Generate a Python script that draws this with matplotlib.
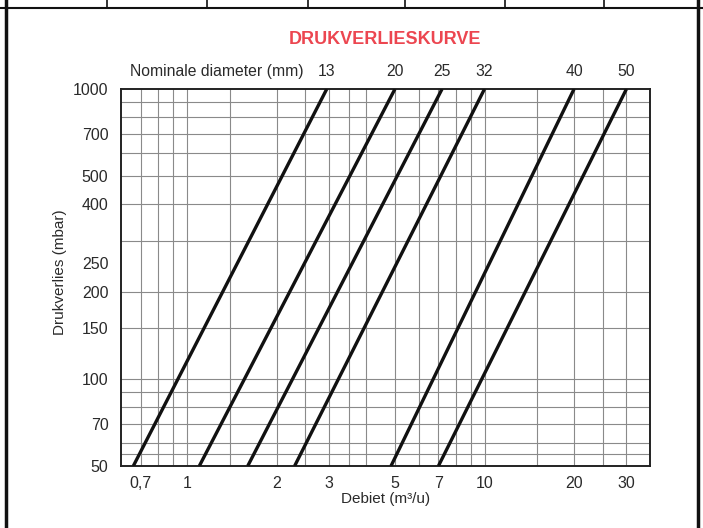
import numpy as np
import matplotlib
matplotlib.use('Agg')
import matplotlib.pyplot as plt
from matplotlib.lines import Line2D

# nominale diameter (mm) en debiet bij 50 en 1000 mbar
diameters = [13, 20, 25, 32, 40, 50]
q_50 = [0.66, 1.1, 1.6, 2.3, 4.85, 7.0]
q_1000 = [2.95, 5.0, 7.2, 10.0, 20, 30]
dp_ends = [50, 1000]

xticks = [0.7, 1, 2, 3, 5, 7, 10, 20, 30]
xticklabels = ['0,7', '1', '2', '3', '5', '7', '10', '20', '30']
yticks = [50, 70, 100, 150, 200, 250, 400, 500, 700, 1000]
xgrid = [0.7, 0.8, 0.9, 1, 1.4, 2, 2.5, 3, 3.5, 4, 5, 6, 7, 8, 9, 10, 15, 20, 25, 30]
ygrid = [55, 60, 70, 80, 90, 100, 150, 200, 300, 400, 500, 600, 700, 800, 900]

plt.rcParams['font.family'] = ['Liberation Sans', 'DejaVu Sans']
txt = '#2a2a2a'

fig = plt.figure(figsize=(7.03, 5.28), dpi=100)
ax = fig.add_axes([121/703, 1-466/528, (650-121)/703, (466-89)/528])
ax.set_xscale('log')
ax.set_yscale('log')
ax.set_xlim(0.6, 36)
ax.set_ylim(50, 1000)

for g in xgrid:
    ax.axvline(g, color='#8a8a8a', lw=0.8, zorder=1)
for g in ygrid:
    ax.axhline(g, color='#8a8a8a', lw=0.8, zorder=1)

for i in range(len(diameters)):
    ax.plot([q_50[i], q_1000[i]], dp_ends, color='#111111', lw=2.4,
            solid_capstyle='butt', zorder=3)
    ax.text(q_1000[i], 1.026, str(diameters[i]), transform=ax.get_xaxis_transform(),
            ha='center', va='bottom', fontsize=11.3, color=txt)
ax.text(0.017, 1.026, 'Nominale diameter (mm)', transform=ax.transAxes,
        ha='left', va='bottom', fontsize=11.3, color=txt)
ax.text(0.5, 1.108, 'DRUKVERLIESKURVE', transform=ax.transAxes, ha='center',
        va='bottom', fontsize=13, fontweight='bold', color='#ec4650')

ax.xaxis.set_major_locator(matplotlib.ticker.FixedLocator(xticks))
ax.xaxis.set_major_formatter(matplotlib.ticker.FixedFormatter(xticklabels))
ax.xaxis.set_minor_locator(matplotlib.ticker.NullLocator())
ax.yaxis.set_major_locator(matplotlib.ticker.FixedLocator(yticks))
ax.yaxis.set_major_formatter(matplotlib.ticker.FixedFormatter([str(v) for v in yticks]))
ax.yaxis.set_minor_locator(matplotlib.ticker.NullLocator())
ax.tick_params(length=0, labelsize=11.5, labelcolor=txt)
ax.tick_params(axis='x', pad=7)
ax.tick_params(axis='y', pad=9)
for s in ax.spines.values():
    s.set_linewidth(1.4)
    s.set_color('#222222')

ax.set_xlabel('Debiet (m³/u)', fontsize=11, color=txt)
ax.set_ylabel('Drukverlies (mbar)', fontsize=11, color=txt)
ax.xaxis.set_label_coords(0.5, -0.07)
ax.yaxis.set_label_coords(-0.102, 0.513)

# kader van de pagina
W, H = 703.0, 528.0
def fline(x0, y0, x1, y1, lw):
    fig.add_artist(Line2D([x0/W, x1/W], [1-y0/H, 1-y1/H], color='#111111', lw=lw))
fline(6, 0, 6, H, 2.5)
fline(698, 0, 698, H, 2.5)
fline(0, 8, W, 8, 1.5)
for xv in [107, 207, 308, 405, 505, 604]:
    fline(xv, 0, xv, 8, 1.2)

fig.savefig('out.png', dpi=100, facecolor='white')
